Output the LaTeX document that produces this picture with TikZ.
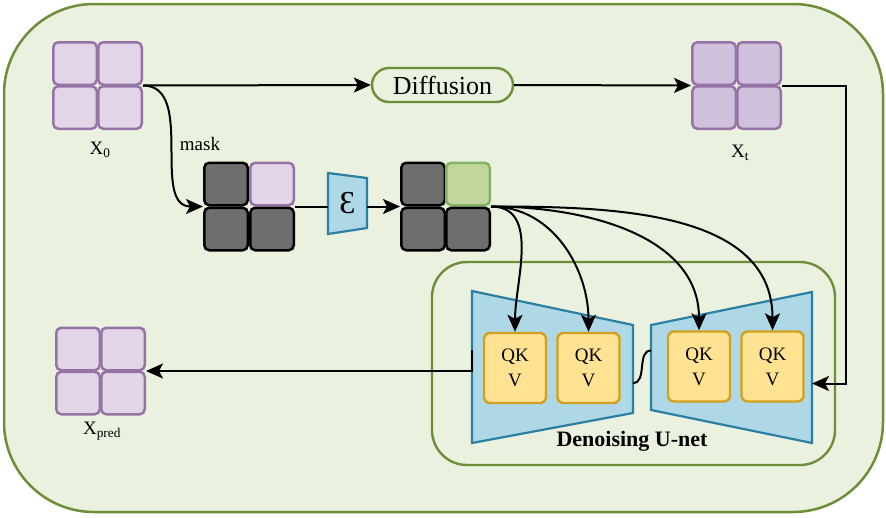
\documentclass[tikz,border=0pt]{standalone}
\usepackage{fontspec}
\setmainfont{Liberation Serif}
\usetikzlibrary{arrows.meta}

\definecolor{panelfill}{HTML}{EAF1DF}
\definecolor{panelline}{HTML}{6D8F3A}
\definecolor{patchfill}{HTML}{E1D5E7}
\definecolor{patchline}{HTML}{9673A6}
\definecolor{noisyfill}{HTML}{CFC0DC}
\definecolor{maskfill}{HTML}{6E6E6E}
\definecolor{latentfill}{HTML}{C2D69B}
\definecolor{latentline}{HTML}{82B366}
\definecolor{netfill}{HTML}{AED8E6}
\definecolor{netline}{HTML}{2B7FA3}
\definecolor{attnfill}{HTML}{FFE393}
\definecolor{attnline}{HTML}{D1A11E}

\begin{document}
\begin{tikzpicture}
    [
      x=1pt, y=-1pt,
      panel/.style={draw=panelline,fill=panelfill,line width=2.5pt,rectangle,inner sep=0pt},
      grid/.style={minimum width=91pt,minimum height=89pt,inner sep=0pt,outer sep=0pt},
      cell/.style={rounded corners=5pt,line width=2.5pt,minimum width=43.5pt,
        minimum height=42.5pt,inner sep=0pt},
      patch/.style={cell,draw=patchline,fill=patchfill},
      noisy/.style={cell,draw=patchline,fill=noisyfill},
      masked/.style={cell,draw=black,fill=maskfill},
      latent/.style={cell,draw=latentline,fill=latentfill},
      net/.style={draw=netline,fill=netfill,line width=2.2pt,line join=miter},
      attn/.style={draw=attnline,fill=attnfill,line width=2.4pt,rounded corners=6pt,
        minimum width=62pt,minimum height=70pt,align=center,
        font=\fontsize{19}{25}\selectfont},
      lbl/.style={font=\fontsize{19}{21}\selectfont},
      link/.style={line width=2pt,draw=black},
      flow/.style={link,-{Stealth[length=17pt,width=15pt,inset=4pt]}}
    ]

    \useasboundingbox (0,0) rectangle (886,517);
    \node at (443.5,258) [panel,rounded corners=90pt,minimum width=879pt,minimum height=508pt] (frame) {};

    % input image
    \node at (97.5,85.5) [grid] (x0) {};
    \node at (x0.north west) [patch,anchor=north west] (x0a) {};
    \node at (x0.north east) [patch,anchor=north east] (x0b) {};
    \node at (x0.south west) [patch,anchor=south west] (x0c) {};
    \node at (x0.south east) [patch,anchor=south east] (x0d) {};
    \node at (100,150) [lbl] (x0label) {X\textsubscript{0}};

    % noisy image
    \node at (736.5,85.5) [grid] (xt) {};
    \node at (xt.north west) [noisy,anchor=north west] (xta) {};
    \node at (xt.north east) [noisy,anchor=north east] (xtb) {};
    \node at (xt.south west) [noisy,anchor=south west] (xtc) {};
    \node at (xt.south east) [noisy,anchor=south east] (xtd) {};
    \node at (740,153) [lbl] (xtlabel) {X\textsubscript{t}};

    % masked image
    \node at (249,206.5) [grid,minimum width=92pt,minimum height=90pt] (mk) {};
    \node at (mk.north west) [masked,anchor=north west] (mka) {};
    \node at (mk.north east) [patch,anchor=north east] (mkb) {};
    \node at (mk.south west) [masked,anchor=south west] (mkc) {};
    \node at (mk.south east) [masked,anchor=south east] (mkd) {};
    \node at (200,144) [font=\fontsize{19}{21}\selectfont] (masklabel) {mask};

    % latent
    \node at (445.5,206.5) [grid,minimum height=90pt] (lt) {};
    \node at (lt.north west) [masked,anchor=north west] (lta) {};
    \node at (lt.north east) [latent,anchor=north east] (ltb) {};
    \node at (lt.south west) [masked,anchor=south west] (ltc) {};
    \node at (lt.south east) [masked,anchor=south east] (ltd) {};

    % prediction
    \node at (100.5,371) [grid] (xp) {};
    \node at (xp.north west) [patch,anchor=north west] (xpa) {};
    \node at (xp.north east) [patch,anchor=north east] (xpb) {};
    \node at (xp.south west) [patch,anchor=south west] (xpc) {};
    \node at (xp.south east) [patch,anchor=south east] (xpd) {};
    \node at (102,431) [lbl] (xplabel) {X\textsubscript{pred}};

    \node at (442.5,85) [draw=panelline,fill=panelfill,line width=2.4pt,rounded corners=17pt,
      minimum width=141pt,minimum height=34pt,font=\fontsize{26}{28}\selectfont] (diffusion) {Diffusion};

    % encoder
    \node at (347.5,203.5) [minimum width=39pt,minimum height=61pt,inner sep=0pt,outer sep=0pt] (enc) {};
    \draw [net] (enc.north west) -- ([yshift=-5pt]enc.north east) -- ([yshift=6pt]enc.south east)
      -- (enc.south west) -- cycle;
    \node at (enc.center) [font=\fontsize{32}{34}\selectfont] (enclabel) {Ɛ};

    % u-net
    \node at (633.5,363.5) [draw=panelline,line width=2.4pt,rounded corners=35pt,
      minimum width=403pt,minimum height=203pt] (unet) {};
    \node at (552.5,367) [minimum width=161pt,minimum height=152pt,inner sep=0pt,outer sep=0pt] (down) {};
    \node at (731.5,367.5) [minimum width=161pt,minimum height=151pt,inner sep=0pt,outer sep=0pt] (up) {};
    \draw [net] (down.north west) -- ([yshift=-34pt]down.north east) -- ([yshift=30pt]down.south east)
      -- (down.south west) -- cycle;
    \draw [net] ([yshift=-33pt]up.north west) -- (up.north east) -- (up.south east)
      -- ([yshift=33pt]up.south west) -- cycle;
    \node at (515,368) [attn] (qkv1) {QK\\V};
    \node at (588.5,368) [attn] (qkv2) {QK\\V};
    \node at (699,366.5) [attn] (qkv3) {QK\\V};
    \node at (772.5,366.5) [attn] (qkv4) {QK\\V};
    \node at (632,441) [font=\fontsize{22}{24}\selectfont\bfseries] (unetlabel) {Denoising U-net};

    \draw [flow] (x0.east) -- (diffusion.west);
    \draw [flow] (diffusion.east) -- (xt.west);
    \draw [flow] (x0.east) to [out=0,in=180] (mk.west);
    \draw [link] (mk.east) -- (mk.east -| enc.west);
    \draw [flow] (enc.east |- lt.west) -- (lt.west);
    \draw [flow] (lt.east) to [out=0,in=90] (qkv1.north);
    \draw [flow] (lt.east) to [out=0,in=90] (qkv2.north);
    \draw [flow] (lt.east) to [out=0,in=90] (qkv3.north);
    \draw [flow] (lt.east) to [out=0,in=90] (qkv4.north);
    \draw [flow] (xt.east) -- ++(64,0) |- ([yshift=-16pt]up.east);
    \draw [link] ([yshift=-16pt]down.east) to [out=0,in=180] ([yshift=17pt]up.west);
    \draw [flow] ([yshift=17pt]down.west) |- (xp.east);
\end{tikzpicture}
\end{document}
